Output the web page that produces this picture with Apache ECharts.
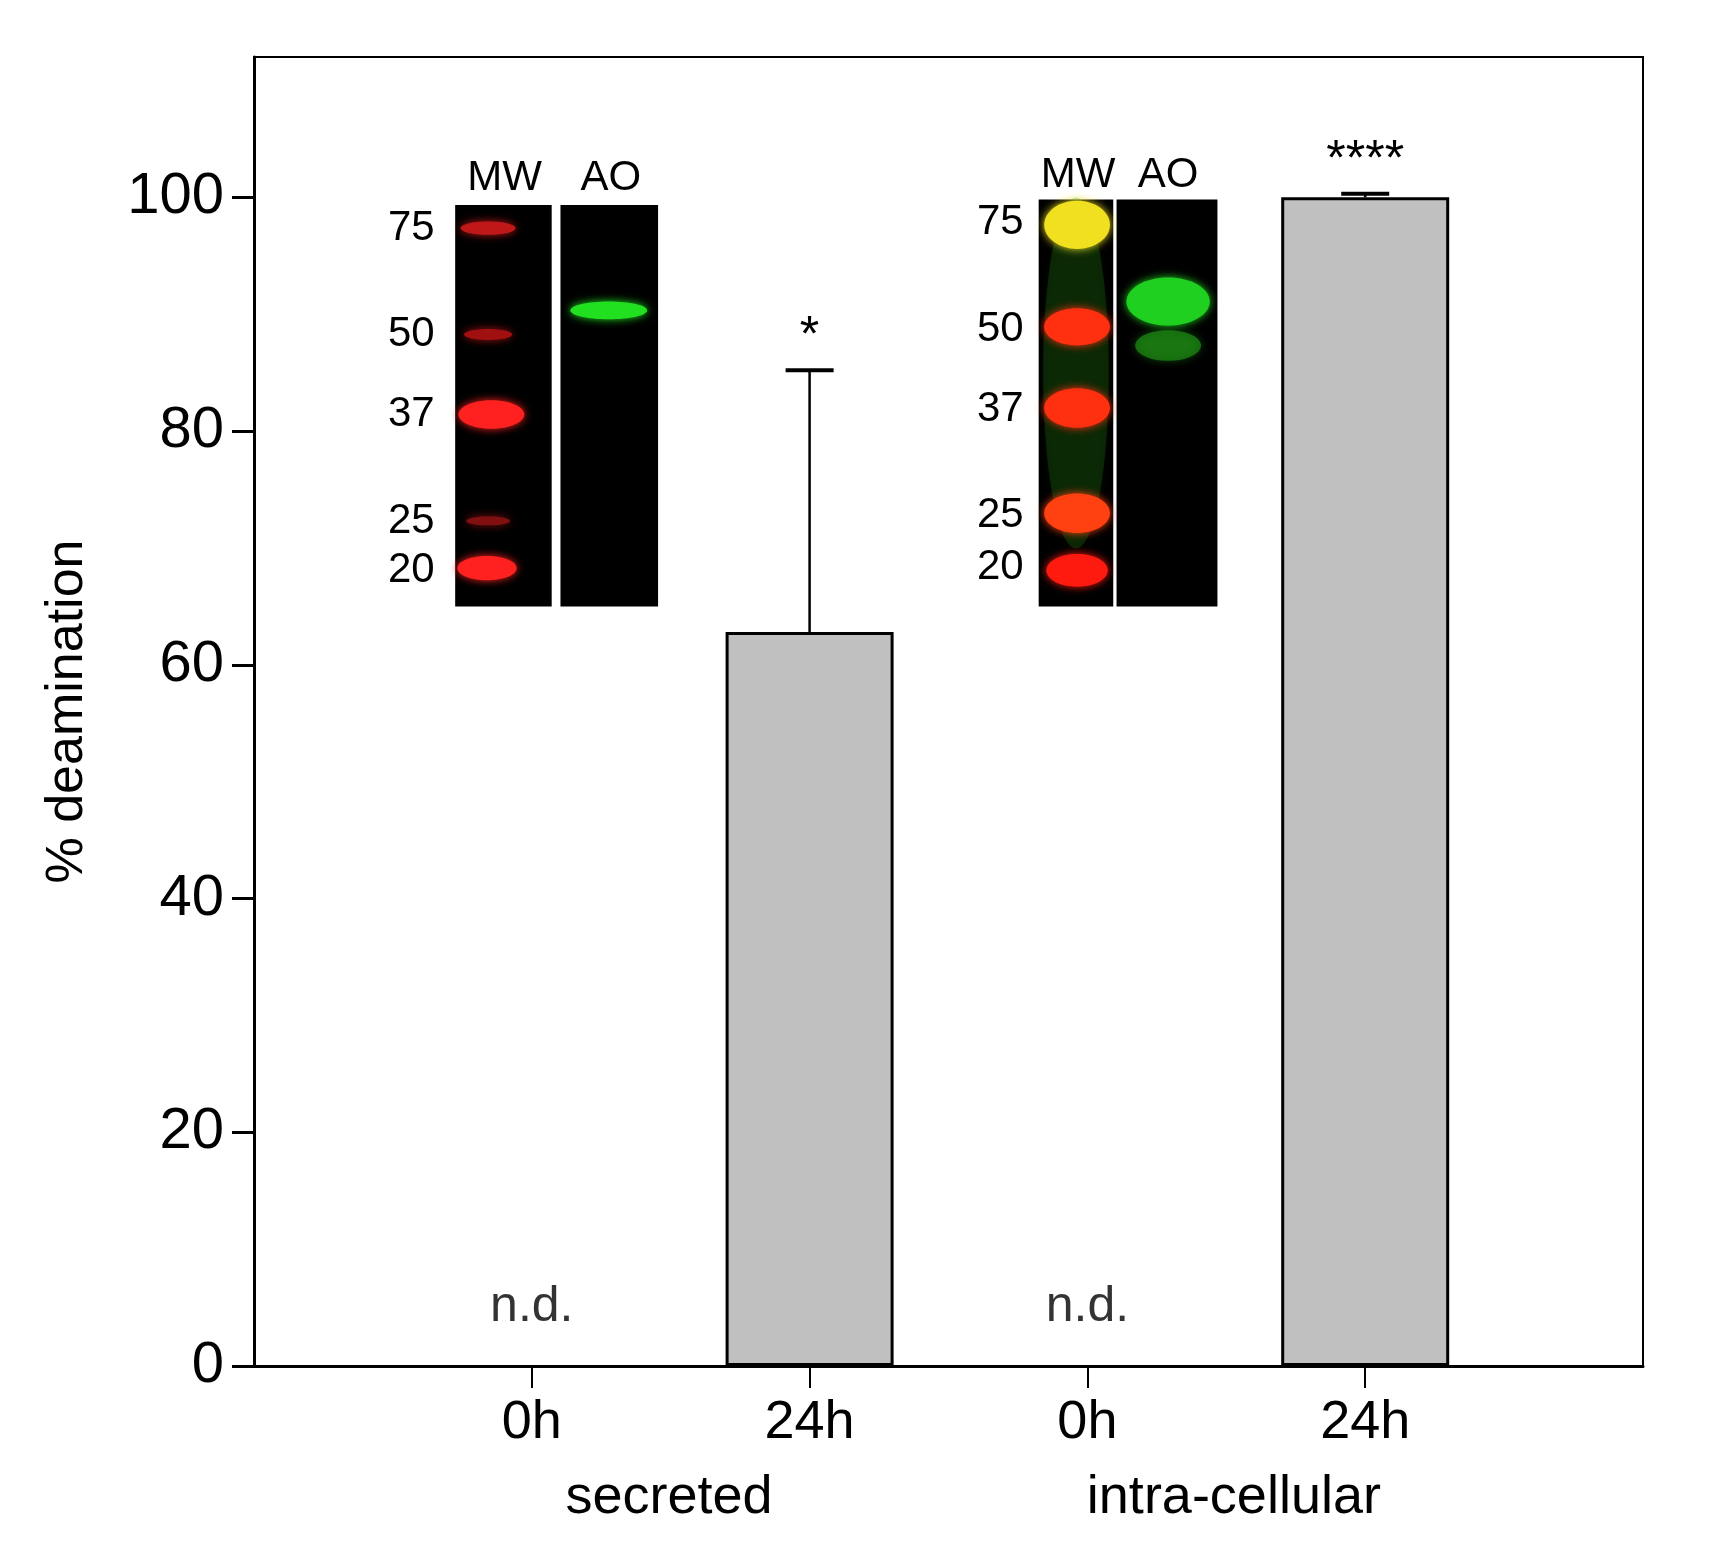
<!DOCTYPE html><html><head><meta charset="utf-8"><script src="https://cdn.jsdelivr.net/npm/echarts@6/dist/echarts.min.js"></script>
<style>html,body{margin:0;background:#fff}#c{width:1711px;height:1542px}</style></head><body><div id="c"></div><script>
const categories=['0h','24h','0h','24h'];
const groups=['secreted','intra-cellular'];
const values=[null,62.8,null,100];
const errUpper=[null,85.2,null,100.3];
const sigLabels=['','*','','****'];
const ndLabels=['n.d.','','n.d.',''];
const F='Liberation Sans, Arial, sans-serif';
const s=1711/1560;
const chart=echarts.init(document.getElementById('c'));
function blot(lanes,y0,y1,bands,nums,labels){
  const g=[];
  lanes.forEach(l=>g.push({type:'rect',shape:{x:l[0]*s,y:y0*s,width:(l[1]-l[0])*s,height:(y1-y0)*s},style:{fill:'#000'}}));
  bands.forEach(b=>g.push({type:'ellipse',shape:{cx:b[0]*s,cy:b[1]*s,rx:b[2]*s,ry:b[3]*s},style:{fill:b[4],shadowBlur:8,shadowColor:b[4]}}));
  nums.concat(labels).forEach(n=>g.push({type:'text',style:{text:n[0],x:n[1]*s,y:n[2]*s,fill:'#000',font:'42px '+F,textAlign:'center',textVerticalAlign:'middle'}}));
  return g;
}
const graphics=[].concat(
 blot([[415,503],[511,600]],187,553,
  [[445,208,25,6,'#c01818'],[445,305,22,5,'#a01010'],[448,378,30,13,'#ff2020'],[445,475,20,4,'#801010'],[444,518,27,11,'#ff2020'],[555,283,35,8,'#20e020']],
  [['75',375,208],['50',375,305],['37',375,378],['25',375,475],['20',375,520]],[['MW',460,163],['AO',557,163]]),
 blot([[947,1015],[1018,1110]],182,553,
  [[981,340,30,160,'rgba(40,140,20,0.25)'],[982,205,30,22,'#f0e020'],[982,298,30,17,'#ff3010'],[982,372,30,18,'#ff3010'],[982,468,30,18,'#ff4010'],[982,520,28,15,'#ff1a10'],[1065,275,38,22,'#20d020'],[1065,315,30,14,'rgba(30,140,20,0.7)']],
  [['75',912,203],['50',912,300],['37',912,373],['25',912,470],['20',912,517]],[['MW',983,160],['AO',1065,160]]),
 [{type:'text',style:{text:groups[0],x:610*s,y:1366*s,fill:'#000',font:'54px '+F,textAlign:'center',textVerticalAlign:'middle'}},
  {type:'text',style:{text:groups[1],x:1125*s,y:1366*s,fill:'#000',font:'54px '+F,textAlign:'center',textVerticalAlign:'middle'}}]
);
chart.setOption({
 animation:false,
 grid:{left:254,right:68,top:57,bottom:176,show:true,borderColor:'#000',borderWidth:2},
 xAxis:{type:'value',min:0,max:5,interval:1,splitLine:{show:false},
  axisLine:{lineStyle:{color:'#000',width:3}},
  axisTick:{show:true,length:22,lineStyle:{color:'#000',width:2},customValues:[1,2,3,4]},
  axisLabel:{fontSize:54,fontFamily:F,color:'#000',margin:30,formatter:v=>(v>=1&&v<=4)?categories[v-1]:''}},
 yAxis:{type:'value',min:0,max:112,interval:20,splitLine:{show:false},
  name:'% deamination',nameLocation:'middle',nameGap:160,nameTextStyle:{fontSize:52,fontFamily:F,color:'#000'},
  axisLine:{show:true,lineStyle:{color:'#000',width:3}},axisTick:{show:true,length:22,lineStyle:{color:'#000',width:3}},
  axisLabel:{fontSize:58,fontFamily:F,color:'#000',margin:30,showMaxLabel:false}},
 graphic:graphics,
 series:[
  {type:'bar',barWidth:168,data:values.map((v,i)=>[i+1,v]),itemStyle:{color:'#c0c0c0',borderColor:'#000',borderWidth:3}},
  {type:'custom',data:errUpper.map((u,i)=>[i+1,values[i],u]),
   renderItem:(p,api)=>{const v=api.value(1);if(v==null||isNaN(v))return;
    const a=api.coord([api.value(0),v]),b=api.coord([api.value(0),api.value(2)]);
    return {type:'group',children:[
     {type:'line',shape:{x1:a[0],y1:a[1],x2:b[0],y2:b[1]},style:{stroke:'#000',lineWidth:2.5}},
     {type:'line',shape:{x1:b[0]-24,y1:b[1],x2:b[0]+24,y2:b[1]},style:{stroke:'#000',lineWidth:4}},
     {type:'text',style:{text:sigLabels[p.dataIndex],x:b[0],y:b[1]-8,textAlign:'center',textVerticalAlign:'bottom',font:'50px '+F,fill:'#000'}}]};
   },z:5},
  {type:'scatter',symbolSize:0,data:ndLabels.map((t,i)=>[i+1,t?5:null]),
   label:{show:true,position:'inside',formatter:p=>ndLabels[p.dataIndex],fontSize:50,fontFamily:F,color:'#000'}}
 ]
});
</script></body></html>
